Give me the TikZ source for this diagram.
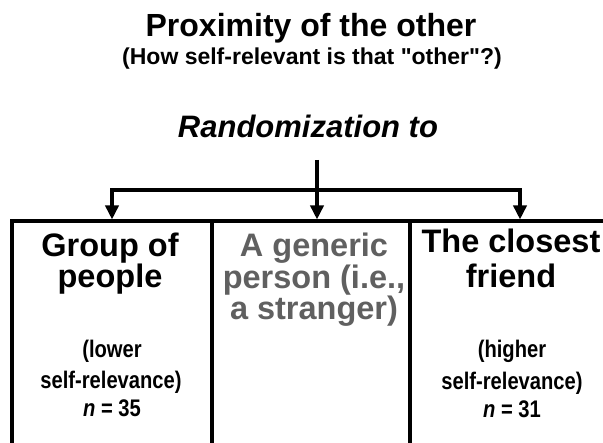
\documentclass[tikz,border=0pt]{standalone}
\usepackage{fontspec}
\setmainfont{Liberation Sans}[Ligatures=TeXOff]
\newfontfamily\narrowfont[FakeStretch=0.84]{Liberation Sans}
\usetikzlibrary{arrows.meta}
\definecolor{midgray}{RGB}{96,96,96}
\begin{document}
\begin{tikzpicture}[x=1pt,y=-1pt,
  head/.style={font=\fontsize{32.5}{32.5}\selectfont\bfseries, anchor=base, inner sep=0},
  small/.style={font=\narrowfont\fontsize{24}{24}\selectfont\bfseries, anchor=base, inner sep=0},
  box/.style={draw, line width=4.5pt, anchor=north west, minimum height=280pt, inner sep=0, outer sep=0},
  conn/.style={line width=4pt},
  arr/.style={conn, -{Triangle[width=13pt,length=14pt]}, shorten >=1.5pt}]
\useasboundingbox (0,0) rectangle (603,443);
\fill[white] (0,0) rectangle (603,443);
\clip (0,0) rectangle (603,443);
% titles
\node[font=\fontsize{32}{32}\selectfont\bfseries, anchor=base, inner sep=0] (title) at (311,37) {Proximity of the other};
\node[font=\fontsize{23}{23}\selectfont\bfseries, anchor=base, inner sep=0] (subtitle) at (312,65) {(How self-relevant is that "other"?)};
\node[font=\fontsize{31}{31}\selectfont\bfseries\itshape, anchor=base, inner sep=0] (rand) at (308,138) {Randomization to};
% boxes
\node[box, minimum width=200pt] (b1) at (12,221) {};
\node[box, minimum width=198pt] (b2) at (212,221) {};
\node[box, minimum width=220pt] (b3) at (410,221) {};
% connectors
\coordinate (top) at (317,160);
\coordinate (split) at (317,190);
\draw[conn] (top) -- (split);
\draw[arr] (split) -- (split |- b2.north);
\draw[arr] (split) -| (b1.north);
\draw[arr] (split) -| (b3.north);
% left box text
\node[head] (g1) at (110,257) {Group of};
\node[head] (g2) at (110,288) {people};
\node[small] (g3) at (112,358) {(lower};
\node[small] (g4) at (111,389) {self-relevance)};
\node[small] (g5) at (112,417) {\textit{n} = 35};
% middle box text
\node[head, text=midgray] (m1) at (314,257) {A generic};
\node[head, text=midgray] (m2) at (314,289) {person (i.e.,};
\node[head, text=midgray] (m3) at (314,320) {a stranger)};
% right box text
\node[head] (c1) at (511,253) {The closest};
\node[head] (c2) at (511,288) {friend};
\node[small] (c3) at (512,358) {(higher};
\node[small] (c4) at (512,390) {self-relevance)};
\node[small] (c5) at (512,418) {\textit{n} = 31};
\end{tikzpicture}
\end{document}
